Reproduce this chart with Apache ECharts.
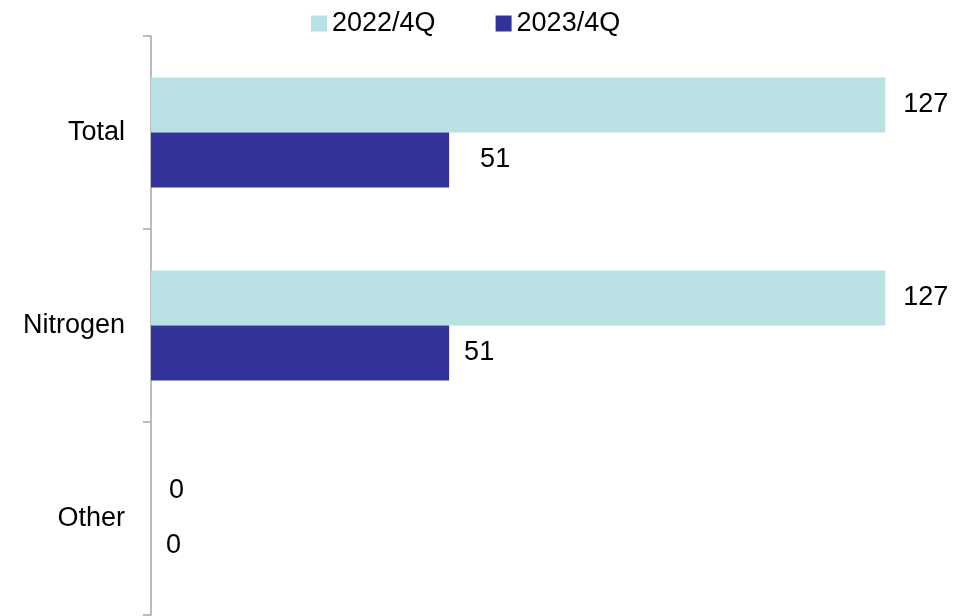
<!DOCTYPE html>
<html>
<head>
<meta charset="utf-8">
<script src="https://cdn.jsdelivr.net/npm/echarts@6/dist/echarts.min.js"></script>
<style>
html,body{margin:0;padding:0;background:#fff;}
#chart{width:958px;height:616px;}
</style>
</head>
<body>
<div id="chart"></div>
<script>
var categories = ['Total', 'Nitrogen', 'Other'];
var seriesNames = ['2022/4Q', '2023/4Q'];
var values2022 = [126.6, 126.6, 0];
var values2023 = [51.4, 51.4, 0];
var colors = ['#B9E0E3', '#333399'];

var FONT = '"Liberation Sans", Arial, sans-serif';
var FS = 27;

function buildData(vals, extraOffsetIndex) {
  return vals.map(function (v, i) {
    var item = { value: v };
    if (i === extraOffsetIndex) {
      item.label = { offset: [16, 0] };
    }
    return item;
  });
}

var chart = echarts.init(document.getElementById('chart'), null, { renderer: 'canvas' });
chart.setOption({
  animation: false,
  backgroundColor: '#fff',
  textStyle: { fontFamily: FONT },
  legend: {
    data: seriesNames,
    top: 5,
    left: 306,
    itemWidth: 16,
    itemHeight: 16,
    itemGap: 60,
    icon: 'rect',
    textStyle: { fontSize: FS, color: '#000', fontFamily: FONT }
  },
  grid: { left: 151, top: 36, bottom: 1, width: 783, containLabel: false },
  xAxis: {
    type: 'value',
    min: 0,
    max: 135,
    show: false
  },
  yAxis: {
    type: 'category',
    data: categories,
    inverse: true,
    axisLine: { show: true, lineStyle: { color: '#A6A6A6', width: 1.5 } },
    axisTick: { show: true, length: 8, lineStyle: { color: '#A6A6A6', width: 1.5 } },
    axisLabel: { margin: 26, fontSize: FS, color: '#000', fontFamily: FONT },
    splitLine: { show: false }
  },
  series: [
    {
      name: seriesNames[0],
      type: 'bar',
      data: buildData(values2022, -1),
      barWidth: 55,
      barGap: '0%',
      itemStyle: { color: colors[0] },
      label: {
        show: true, position: 'right', distance: 18,
        fontSize: FS, color: '#000', fontFamily: FONT,
        formatter: function (p) { return Math.round(p.value); }
      }
    },
    {
      name: seriesNames[1],
      type: 'bar',
      data: buildData(values2023, 0),
      barWidth: 55,
      barGap: '0%',
      itemStyle: { color: colors[1] },
      label: {
        show: true, position: 'right', distance: 15,
        fontSize: FS, color: '#000', fontFamily: FONT,
        formatter: function (p) { return Math.round(p.value); }
      }
    }
  ]
});
</script>
</body>
</html>
